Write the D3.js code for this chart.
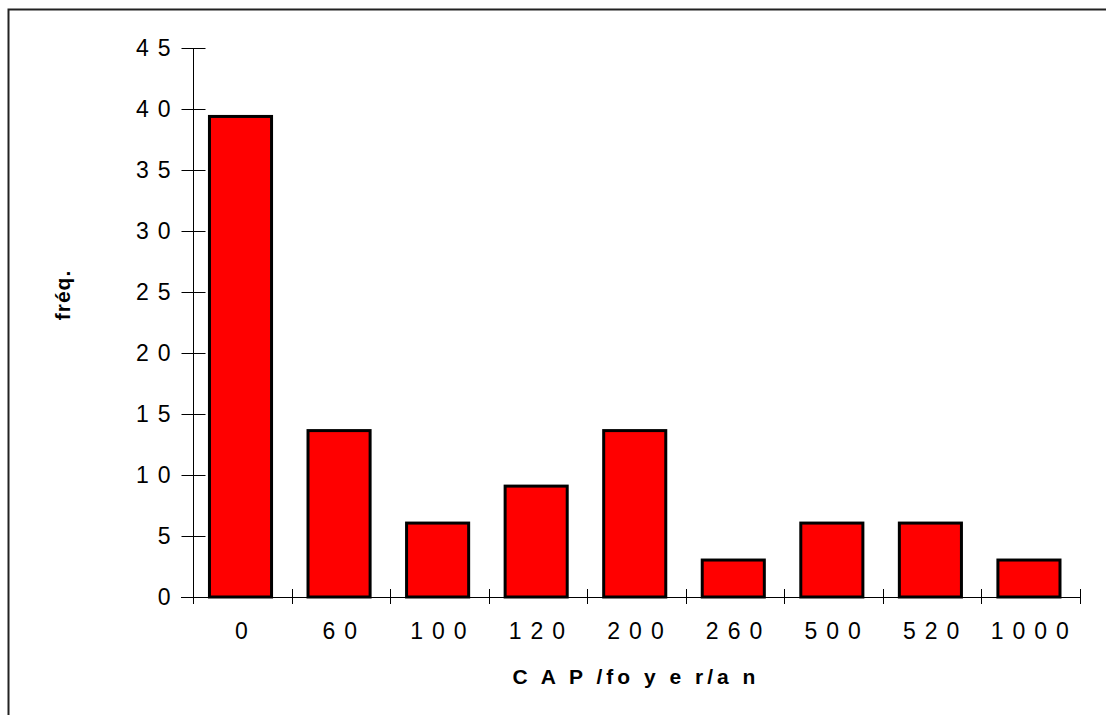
<!DOCTYPE html>
<html>
<head>
<meta charset="utf-8">
<script src="https://cdn.jsdelivr.net/npm/d3@7"></script>
<style>
  html, body { margin: 0; padding: 0; background: #fff; }
  svg { display: block; font-family: "Liberation Sans", Arial, sans-serif; }
</style>
</head>
<body>
<svg id="chart" width="1106" height="715"></svg>
<script>
// CAP per household per year, frequency (%) of each response
const categories = ["0", "60", "100", "120", "200", "260", "500", "520", "1000"];
const frequencies = [39.39, 13.64, 6.06, 9.09, 13.64, 3.03, 6.06, 6.06, 3.03];
const yTicks = [0, 5, 10, 15, 20, 25, 30, 35, 40, 45];
const xTitle = "C A P /fo y e r/a n";
const yTitle = "fréq.";

const svg = d3.select("#chart");

// outer frame
svg.append("rect")
  .attr("x", 8.5).attr("y", 9.5)
  .attr("width", 1200).attr("height", 800)
  .attr("fill", "none").attr("stroke", "#222").attr("stroke-width", 2);

const x = d3.scaleBand().domain(categories).range([193, 1080]).padding(0);
const y = d3.scaleLinear().domain([0, 45]).range([597, 48]);

// bars
const bw = x.bandwidth();
svg.append("g").selectAll("rect")
  .data(categories)
  .join("rect")
  .attr("x", (d) => x(d) + bw * 0.167)
  .attr("width", bw * 0.63)
  .attr("y", (d, i) => y(frequencies[i]))
  .attr("height", (d, i) => y(0) - y(frequencies[i]))
  .attr("fill", "#ff0000")
  .attr("stroke", "#000")
  .attr("stroke-width", 3);

const tickFont = 23;
const tickSpacing = 9;

// y axis
const ya = svg.append("g").attr("transform", "translate(193.5,0)");
ya.append("line").attr("x1", 0).attr("x2", 0).attr("y1", y(45)).attr("y2", 604)
  .attr("stroke", "#000");
ya.selectAll("line.tick").data(yTicks).join("line").attr("class", "tick")
  .attr("x1", -12).attr("x2", (d) => d === 0 ? 0 : 12)
  .attr("y1", (d) => Math.round(y(d)) + 0.5).attr("y2", (d) => Math.round(y(d)) + 0.5)
  .attr("stroke", "#000");
ya.selectAll("text").data(yTicks).join("text")
  .attr("x", -14)
  .attr("y", (d) => y(d))
  .attr("dy", "0.36em")
  .attr("text-anchor", "end")
  .attr("font-size", tickFont)
  .attr("letter-spacing", tickSpacing)
  .attr("fill", "#000")
  .text((d) => String(d));

// x axis
const xa = svg.append("g");
xa.append("line").attr("x1", 181).attr("x2", 1080).attr("y1", 597.5).attr("y2", 597.5)
  .attr("stroke", "#000");
const bounds = categories.map((c) => x(c)).concat([x.range()[1]]);
xa.selectAll("line.tick").data(bounds).join("line").attr("class", "tick")
  .attr("x1", (d) => Math.round(d) + 0.5).attr("x2", (d) => Math.round(d) + 0.5)
  .attr("y1", 589).attr("y2", 604)
  .attr("stroke", "#000");
xa.selectAll("text").data(categories).join("text")
  .attr("x", (d) => x(d) + bw / 2 + tickSpacing / 2 - 1)
  .attr("y", 639)
  .attr("text-anchor", "middle")
  .attr("font-size", tickFont)
  .attr("letter-spacing", tickSpacing)
  .attr("fill", "#000")
  .text((d) => d);

// axis titles
svg.append("text")
  .attr("x", 636).attr("y", 684)
  .attr("text-anchor", "middle")
  .attr("font-size", 21).attr("font-weight", "bold")
  .attr("letter-spacing", 4)
  .attr("xml:space", "preserve")
  .style("white-space", "pre")
  .text(xTitle);

svg.append("text")
  .attr("transform", "translate(70,295) rotate(-90)")
  .attr("text-anchor", "middle")
  .attr("font-size", 21).attr("font-weight", "bold")
  .attr("letter-spacing", 1)
  .text(yTitle);
</script>
</body>
</html>
